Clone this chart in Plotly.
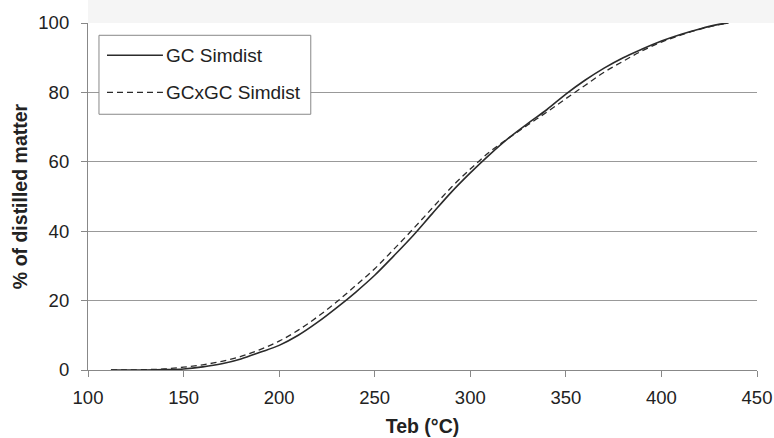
import plotly.graph_objects as go

# Temperaturas (°C) y % destilado
teb = [112, 120, 130, 140, 150, 160, 170, 180, 190, 200, 210, 220, 230, 240,
       250, 260, 270, 280, 290, 300, 310, 320, 330, 340, 350, 360, 370, 380,
       390, 400, 410, 420, 430, 435]
gc_simdist = [0, 0, 0, 0.1, 0.3, 0.9, 1.8, 3.2, 5.1, 7.1, 10, 13.7, 17.9, 22.4,
              27.3, 32.9, 38.7, 45, 51.2, 56.8, 62, 66.8, 71, 75, 79.5, 83.5,
              87, 90, 92.5, 94.8, 96.7, 98.3, 99.6, 100]
gcxgc_simdist = [0, 0, 0.1, 0.3, 0.8, 1.5, 2.5, 3.9, 5.9, 8.3, 11.5, 15.3, 19.6,
                 24.3, 29.2, 34.8, 40.6, 46.6, 52.6, 57.9, 62.8, 66.8, 70.6,
                 74.3, 78.2, 82, 85.8, 89, 92, 94.5, 96.5, 98.2, 99.5, 100]

series = ["GC Simdist", "GCxGC Simdist"]
x_ticks = [100, 150, 200, 250, 300, 350, 400, 450]
y_ticks = [0, 20, 40, 60, 80, 100]

fig = go.Figure()
fig.add_trace(go.Scatter(x=teb, y=gc_simdist, mode="lines", name=series[0],
                         line=dict(color="#2b2b2b", width=1.6, shape="spline")))
fig.add_trace(go.Scatter(x=teb, y=gcxgc_simdist, mode="lines", name=series[1],
                         line=dict(color="#2b2b2b", width=1.3, shape="spline",
                                   dash="6px,4px")))

font = "Liberation Sans, Arial, sans-serif"
fig.update_layout(
    width=774, height=438,
    margin=dict(l=88, r=17, t=23, b=68),
    paper_bgcolor="white", plot_bgcolor="white",
    showlegend=False,
    font=dict(family=font, size=18.5, color="#222"),
    xaxis=dict(range=[100, 450], tickvals=x_ticks, showgrid=False,
               showline=True, linecolor="#888", linewidth=1.2,
               ticks="outside", ticklen=6, tickcolor="#888",
               ticklabelstandoff=5, zeroline=False, automargin=False,
               title=dict(text="<b>Teb (°C)</b>", font=dict(size=19.5), standoff=12)),
    yaxis=dict(range=[0, 100], tickvals=y_ticks, showgrid=True,
               gridcolor="#999", gridwidth=1.2,
               showline=True, linecolor="#888", linewidth=1.2,
               ticks="outside", ticklen=6, tickcolor="#888",
               ticklabelstandoff=8, zeroline=False, automargin=False,
               title=dict(text="<b>% of distilled matter</b>", font=dict(size=19.5),
                          standoff=5)),
)

# Banda gris clara encima del área de trazado
fig.add_shape(type="rect", xref="paper", yref="paper", x0=0, x1=1.03,
              y0=1.0, y1=1.07, fillcolor="#f5f5f5", line_width=0, layer="below")

# Leyenda dibujada a mano (caja, muestras de línea y textos)
fig.add_shape(type="rect", xref="paper", yref="paper", x0=0.0164, x1=0.333,
              y0=0.737, y1=0.9646, fillcolor="white",
              line=dict(color="#888", width=1))
for i, (name, dash) in enumerate(zip(series, ["solid", "6px,4px"])):
    yy = 0.907 - i * 0.107
    fig.add_shape(type="line", xref="paper", yref="paper", x0=0.0284, x1=0.112,
                  y0=yy, y1=yy, line=dict(color="#2b2b2b", width=1.4, dash=dash))
    fig.add_annotation(xref="paper", yref="paper", x=0.114, y=yy, text=name,
                       showarrow=False, xanchor="left", yanchor="middle",
                       font=dict(size=19, color="#222"))

# Sin margen en el body para que la figura ocupe toda la ventana
fig.write_html("out.html", config={"displayModeBar": False},
               post_script="document.body.style.margin='0';")
